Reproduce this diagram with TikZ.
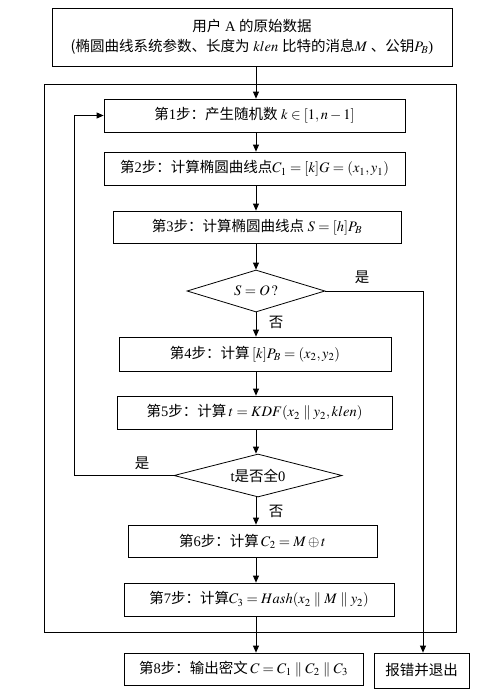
\documentclass[tikz,border=0pt]{standalone}
\usepackage{mathptmx}
\usepackage[no-math]{fontspec}
\setmainfont{Liberation Serif}
\newfontfamily\zhfont{Noto Sans CJK SC}
\newcommand{\zh}[1]{{\zhfont #1}}
\usetikzlibrary{arrows.meta,shapes.geometric}
\begin{document}
\begin{tikzpicture}[x=1pt,y=-1pt,
  every node/.style={font=\fontsize{14.5}{17}\selectfont},
  box/.style={draw,line width=0.8pt,rectangle,inner sep=0pt,align=center},
  dia/.style={draw,line width=0.8pt,diamond,inner sep=0pt,aspect=3},
  arr/.style={line width=0.8pt,-{Triangle[length=7pt,width=6pt]}},
  ln/.style={line width=0.8pt},
  lbl/.style={inner sep=0pt}]
\useasboundingbox (0,0) rectangle (492,691);
% outer frame
\draw[ln] (44,84) rectangle (456,632);
\node[box,minimum width=400pt,minimum height=58pt] (top) at (252,37)
  {\zh{用户}~A~\zh{的原始数据}\\[3pt]
   \zh{(椭圆曲线系统参数、长度为}~$klen$~\zh{比特的消息}$M$~\zh{、公钥}$P_B$)};
\node[box,minimum width=301pt,minimum height=33pt] (b1) at (254.5,115.5)
  {\zh{第}1\zh{步：产生随机数} $k\in[1,n-1]$};
\node[box,minimum width=301pt,minimum height=33pt] (b2) at (254.5,168.5)
  {\zh{第}2\zh{步：计算椭圆曲线点}$C_1=[k]G=(x_1,y_1)$};
\node[box,minimum width=288pt,minimum height=32pt] (b3) at (257,227)
  {\zh{第}3\zh{步：计算椭圆曲线点} $S=[h]P_B$};
\node[dia,minimum width=138pt,minimum height=42pt] (d1) at (256,291)
  {$S=O\,?$};
\node[box,minimum width=272pt,minimum height=34pt] (b4) at (255,354)
  {\zh{第}4\zh{步：计算}\,$[k]P_B=(x_2,y_2)$};
\node[box,minimum width=275pt,minimum height=33pt] (b5) at (254.5,412.5)
  {\zh{第}5\zh{步：计算}\,$t=KDF(x_2\parallel y_2,klen)$};
\node[dia,minimum width=168pt,minimum height=43pt] (d2) at (258,475.5)
  {t\zh{是否全}0};
\node[box,minimum width=249pt,minimum height=32pt] (b6) at (252.5,541)
  {\zh{第}6\zh{步：计算}\,$C_2=M\oplus t$};
\node[box,minimum width=270pt,minimum height=33pt] (b7) at (259,599.5)
  {\zh{第}7\zh{步：计算}$C_3=Hash(x_2\parallel M\parallel y_2)$};
\node[box,minimum width=239pt,minimum height=32pt] (b8) at (243.5,669)
  {\zh{第}8\zh{步：输出密文}\,$C=C_1\parallel C_2\parallel C_3$};
\node[box,minimum width=95pt,minimum height=35pt] (ex) at (421.5,670.5)
  {\zh{报错并退出}};
% axis
\coordinate (X) at (256,0);
\draw[arr] (top.south -| X) -- (b1.north -| X);
\draw[arr] (b1.south -| X) -- (b2.north -| X);
\draw[arr] (b2.south -| X) -- (b3.north -| X);
\draw[arr] (b3.south -| X) -- (d1.north);
\draw[arr] (d1.south) -- (b4.north -| X);
\draw[arr] (b4.south -| X) -- (b5.north -| X);
\draw[arr] (b5.south -| X) -- (d2.north -| X);
\draw[arr] (d2.south -| X) -- (b6.north -| X);
\draw[arr] (b6.south -| X) -- (b7.north -| X);
\draw[arr] (b7.south -| X) -- (b8.north -| X);
% yes branch to exit
\coordinate (R) at (423,291);
\draw[arr] (d1.east) -- (R) -- (R |- ex.north);
% loop back
\coordinate (L) at (74,475.5);
\draw[arr] (d2.west) -- (L) |- (b1.west);
% labels
\node[lbl] (y1) at (362,277) {\zh{是}};
\node[lbl] (n1) at (276,322) {\zh{否}};
\node[lbl] (y2) at (142,463) {\zh{是}};
\node[lbl] (n2) at (276,511) {\zh{否}};
\end{tikzpicture}
\end{document}
